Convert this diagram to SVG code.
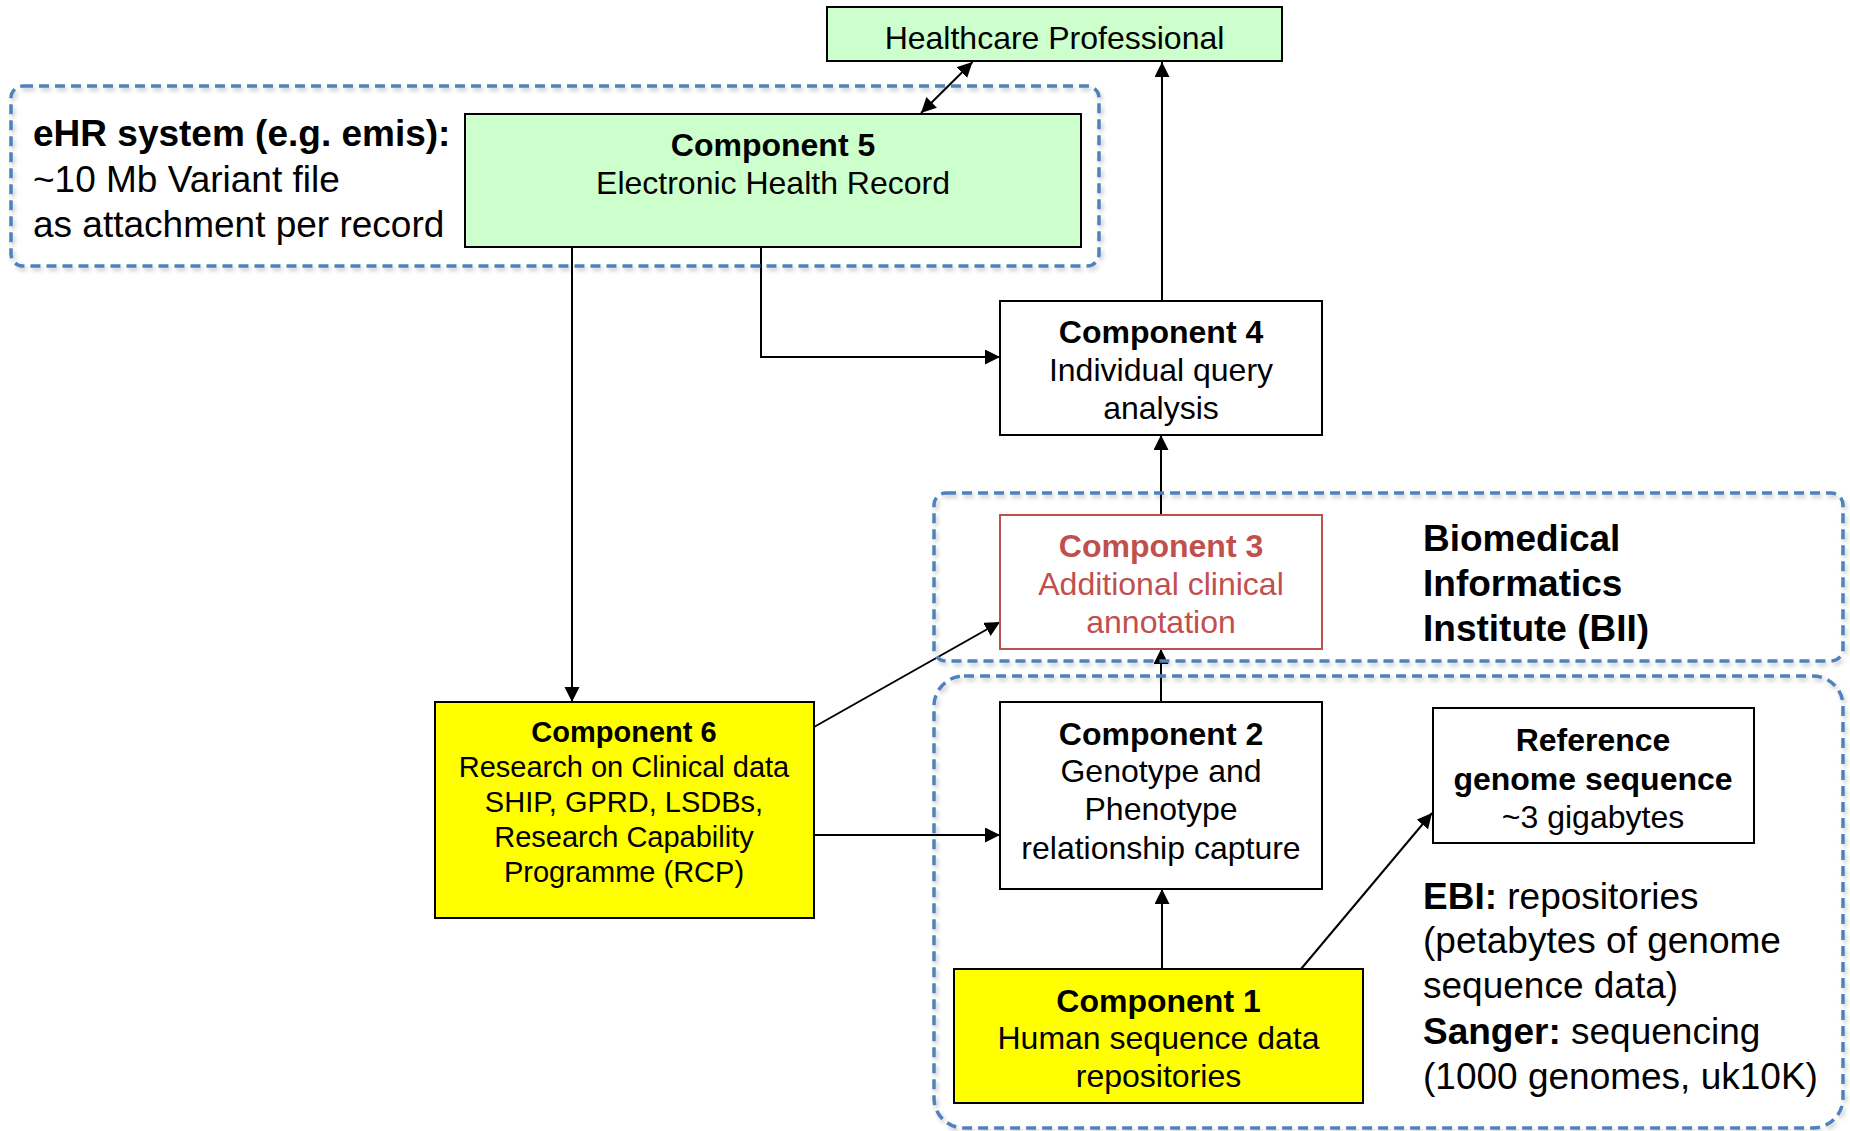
<svg xmlns="http://www.w3.org/2000/svg" width="1850" height="1131" viewBox="0 0 1850 1131">
<style>
text{font-family:"Liberation Sans",Arial,sans-serif;fill:#000}
.b{font-weight:bold}
.c{text-anchor:middle}
.n{font-size:32px}
.s{font-size:29px}
.big{font-size:37px}
.red{fill:#C0504D}
.box{stroke:#000;stroke-width:2}
.green{fill:#CCFFCC}
.yellow{fill:#FFFF00}
.white{fill:#FFFFFF}
.grp{fill:none;stroke:#4F81BD;stroke-width:3.5;stroke-dasharray:10 6}
.con{fill:none;stroke:#000;stroke-width:2}
</style>
<defs>
<marker id="ah" markerUnits="userSpaceOnUse" markerWidth="16" markerHeight="16" refX="15" refY="7.5" orient="auto-start-reverse">
<path d="M0,0 L15,7.5 L0,15 z" fill="#000"/>
</marker>
<filter id="sh" x="-5%" y="-5%" width="110%" height="115%">
<feDropShadow dx="2" dy="3" stdDeviation="2" flood-color="#000" flood-opacity="0.22"/>
</filter>
</defs>
<rect width="1850" height="1131" fill="#fff"/>

<g id="connectors">
<line class="con" x1="921" y1="113" x2="972.5" y2="62" marker-start="url(#ah)" marker-end="url(#ah)"/>
<line class="con" x1="1162" y1="301" x2="1162" y2="62" marker-end="url(#ah)"/>
<line class="con" x1="572" y1="247" x2="572" y2="702" marker-end="url(#ah)"/>
<path class="con" d="M761,247 V357 H1000" marker-end="url(#ah)"/>
<line class="con" x1="1161" y1="515" x2="1161" y2="435" marker-end="url(#ah)"/>
<line class="con" x1="1161" y1="702" x2="1161" y2="649" marker-end="url(#ah)"/>
<line class="con" x1="814" y1="727" x2="1000" y2="622" marker-end="url(#ah)"/>
<line class="con" x1="814" y1="835" x2="1000" y2="835" marker-end="url(#ah)"/>
<line class="con" x1="1162" y1="969" x2="1162" y2="889" marker-end="url(#ah)"/>
<line class="con" x1="1301" y1="969" x2="1432" y2="813" marker-end="url(#ah)"/>
</g>

<g id="group-ehr">
<rect class="grp" x="11" y="86" width="1088" height="180" rx="12" filter="url(#sh)"/>
<text class="big b" x="33" y="146">eHR system (e.g. emis):</text>
<text class="big" x="33" y="191.5">~10 Mb Variant file</text>
<text class="big" x="33" y="237">as attachment per record</text>
</g>

<g id="group-bii">
<rect class="grp" x="934" y="493" width="909" height="168" rx="12" filter="url(#sh)"/>
<text class="big b" x="1423" y="551">Biomedical</text>
<text class="big b" x="1423" y="596">Informatics</text>
<text class="big b" x="1423" y="641">Institute (BII)</text>
</g>

<g id="group-ebi">
<rect class="grp" x="934" y="676" width="909" height="452" rx="30" filter="url(#sh)"/>
<text class="big" x="1423" y="909"><tspan class="b">EBI:</tspan> repositories</text>
<text class="big" x="1423" y="953">(petabytes of genome</text>
<text class="big" x="1423" y="998">sequence data)</text>
<text class="big" x="1423" y="1044"><tspan class="b">Sanger:</tspan> sequencing</text>
<text class="big" x="1423" y="1089">(1000 genomes, uk10K)</text>
</g>

<g id="healthcare-professional">
<rect class="box green" x="827" y="7" width="455" height="54"/>
<text class="n c" x="1054.5" y="48.5">Healthcare Professional</text>
</g>

<g id="component-5">
<rect class="box green" x="465" y="114" width="616" height="133"/>
<text class="n b c" x="773" y="155.5">Component 5</text>
<text class="n c" x="773" y="193.5">Electronic Health Record</text>
</g>

<g id="component-4">
<rect class="box white" x="1000" y="301" width="322" height="134"/>
<text class="n b c" x="1161" y="343">Component 4</text>
<text class="n c" x="1161" y="381">Individual query</text>
<text class="n c" x="1161" y="419">analysis</text>
</g>

<g id="component-3">
<rect class="white" x="1000" y="515" width="322" height="134" stroke="#C0504D" stroke-width="2"/>
<text class="n b c red" x="1161" y="556.5">Component 3</text>
<text class="n c red" x="1161" y="594.5">Additional clinical</text>
<text class="n c red" x="1161" y="632.5">annotation</text>
</g>

<g id="component-6">
<rect class="box yellow" x="435" y="702" width="379" height="216"/>
<text class="s b c" x="624" y="741.5">Component 6</text>
<text class="s c" x="624" y="776.5">Research on Clinical data</text>
<text class="s c" x="624" y="811.5">SHIP, GPRD, LSDBs,</text>
<text class="s c" x="624" y="847">Research Capability</text>
<text class="s c" x="624" y="881.5">Programme (RCP)</text>
</g>

<g id="component-2">
<rect class="box white" x="1000" y="702" width="322" height="187"/>
<text class="n b c" x="1161" y="744.5">Component 2</text>
<text class="n c" x="1161" y="782">Genotype and</text>
<text class="n c" x="1161" y="820">Phenotype</text>
<text class="n c" x="1161" y="858.5">relationship capture</text>
</g>

<g id="reference-genome">
<rect class="box white" x="1433" y="708" width="321" height="135"/>
<text class="n b c" x="1593" y="750.5">Reference</text>
<text class="n b c" x="1593" y="789.5">genome sequence</text>
<text class="n c" x="1593" y="827.5">~3 gigabytes</text>
</g>

<g id="component-1">
<rect class="box yellow" x="954" y="969" width="409" height="134"/>
<text class="n b c" x="1158.5" y="1011.5">Component 1</text>
<text class="n c" x="1158.5" y="1048.5">Human sequence data</text>
<text class="n c" x="1158.5" y="1086.5">repositories</text>
</g>
</svg>
